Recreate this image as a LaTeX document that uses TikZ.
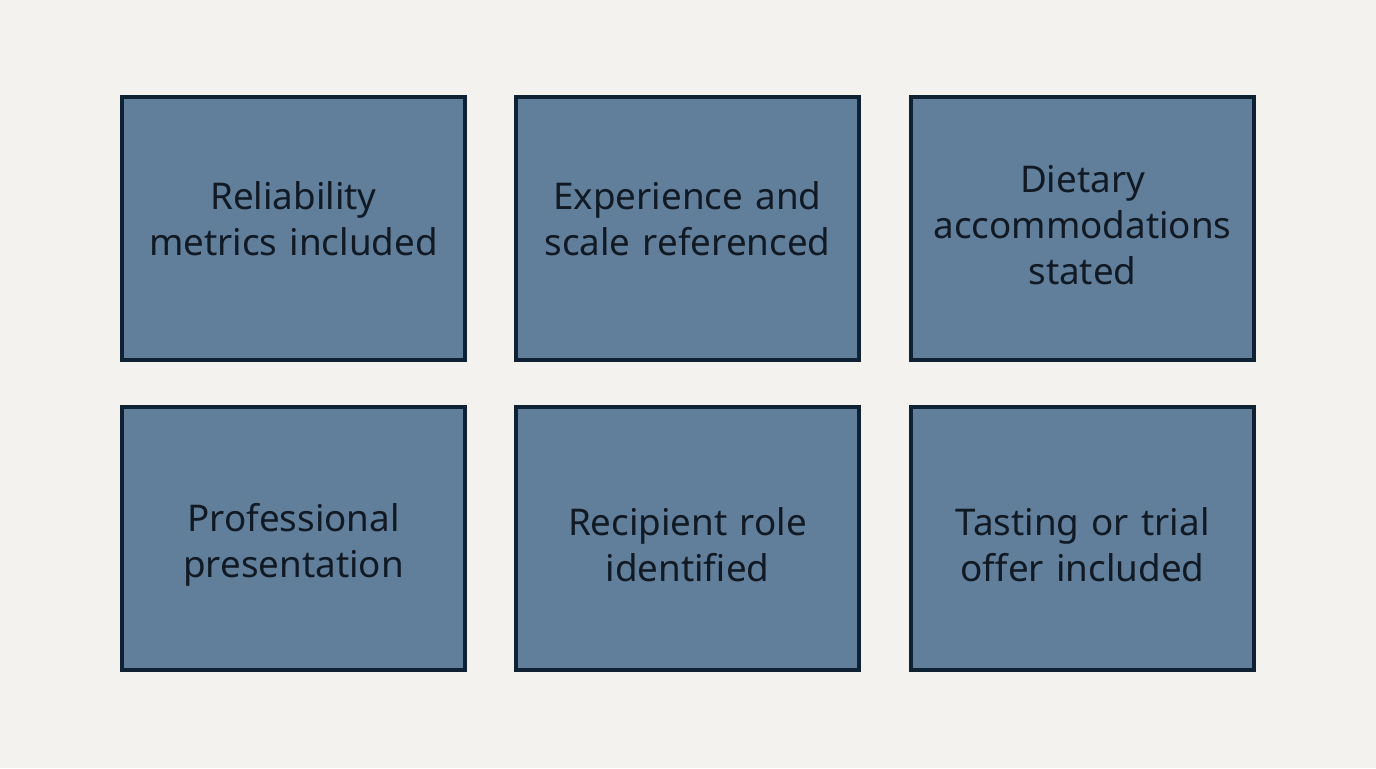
\documentclass[tikz,border=0pt]{standalone}
\usepackage{fontspec}
\setmainfont{Noto Sans}
\definecolor{bg}{HTML}{F3F2EE}
\definecolor{boxfill}{HTML}{617F9A}
\definecolor{boxline}{HTML}{0F2233}
\definecolor{txt}{HTML}{111A24}
\begin{document}
\begin{tikzpicture}[x=0.5pt,y=-0.5pt,
  card/.style={draw=boxline,line width=1.6pt,fill=boxfill,minimum width=171.5pt,minimum height=131.5pt},
  lbl/.style={text width=170pt,align=center,text=txt,font=\fontsize{18.4pt}{23pt}\selectfont}]
\fill[bg] (0,0) rectangle (1376,768);
\useasboundingbox (0,0) rectangle (1376,768);
\node[card] (a) at (293.5,228.5) {};
\node[card] (b) at (687.5,228.5) {};
\node[card] (c) at (1082.5,228.5) {};
\node[card] (d) at (293.5,538.5) {};
\node[card] (e) at (687.5,538.5) {};
\node[card] (f) at (1082.5,538.5) {};
\node[lbl] (ta) at ([yshift=5pt]a.center) {Reliability\\metrics included};
\node[lbl] (tb) at ([yshift=5pt]b.center) {Experience and\\scale referenced};
\node[lbl] (tc) at ([yshift=1.5pt]c.center) {Dietary\\accommodations\\stated};
\node[lbl] (td) at ([yshift=-3pt]d.center) {Professional\\presentation};
\node[lbl] (te) at ([yshift=-3pt]e.center) {Recipient role\\identified};
\node[lbl] (tf) at ([yshift=-3pt]f.center) {Tasting or trial\\offer included};
\end{tikzpicture}
\end{document}
